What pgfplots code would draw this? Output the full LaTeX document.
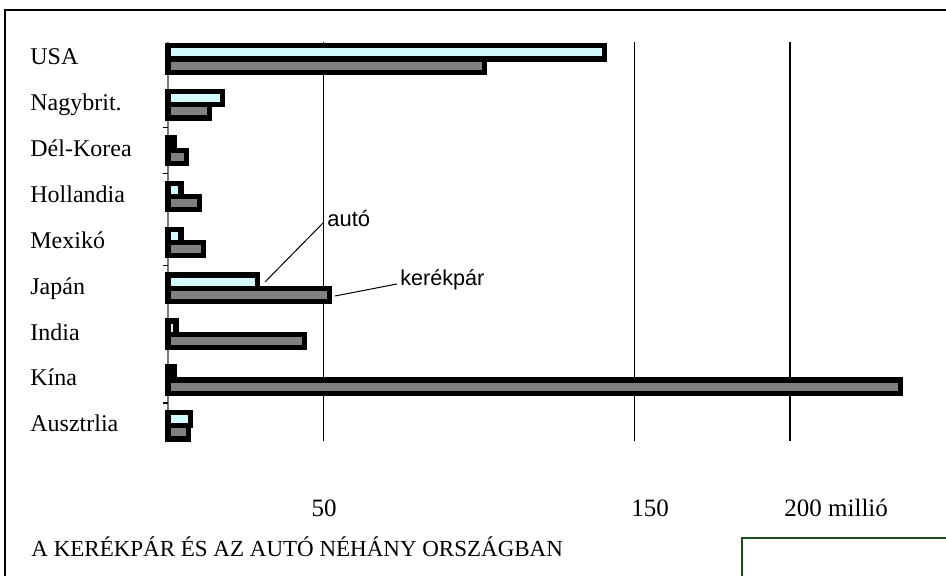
\documentclass[border=0pt]{standalone}
\usepackage{pgfplots}
\pgfplotsset{compat=1.18}
\usepackage{fontspec}
\setmainfont{Liberation Serif}
\newfontfamily\arialf{Liberation Sans}
\definecolor{autoc}{RGB}{210,250,250}
\definecolor{bikec}{RGB}{128,128,128}
\definecolor{frameg}{RGB}{30,80,30}
\definecolor{axisg}{RGB}{120,120,120}

\begin{document}
\begin{tikzpicture}
\useasboundingbox (0,0) rectangle (473pt,288pt);
\draw[line width=1.2pt] (2.5pt,0) -- (2.5pt,283pt) -- (473pt,283pt);
\draw[frameg, line width=1pt] (371pt,0) -- (371pt,19pt) -- (473pt,19pt);
\begin{axis}[
  at={(84pt,67.5pt)}, anchor=south west,
  scale only axis, width=373.2pt, height=199.5pt,
  xmin=0, xmax=240, ymin=-0.33, ymax=8.37,
  xbar, bar width=6.6pt,
  axis x line*=bottom, axis y line*=left,
  x axis line style={draw=none},
  y axis line style={draw=axisg, line width=0.8pt, -},
  xtick={50,150,200}, xticklabels={},
  xmajorgrids, major grid style={black, line width=0.75pt},
  major tick length=0pt,
  ytick={0,...,8},
  yticklabels={Ausztrlia,Kína,India,Japán,Mexikó,Hollandia,Dél-Korea,Nagybrit.,USA},
  yticklabel style={anchor=base west, xshift=-69pt, yshift=-3pt, inner sep=0pt, font=\fontsize{12}{14}\selectfont},
  extra y ticks={0.5,3.5,5.5,6.5}, extra y tick labels={},
  extra y tick style={major tick length=2.5pt, tick align=outside, tick style={black, line width=0.6pt}},
  clip=false,
]
\addplot[fill=autoc, draw=black, line width=2.6pt, bar shift=3.3pt] coordinates {(7.2,0) (1.9,1) (2.6,2) (28.8,3) (4.2,4) (4.2,5) (1.9,6) (17.5,7) (140.4,8)};
\addplot[fill=bikec, draw=black, line width=2.6pt, bar shift=-3.3pt] coordinates {(6.6,0) (235.5,1) (43.9,2) (51.9,3) (11.4,4) (10.1,5) (6,6) (13.3,7) (101.8,8)};
\end{axis}
% annotations
\node[anchor=base west, inner sep=0pt, font=\arialf\fontsize{11}{12}\selectfont] at (163.5pt,174.5pt) {autó};
\node[anchor=base west, inner sep=0pt, font=\arialf\fontsize{10.8}{12}\selectfont] at (200pt,145pt) {kerékpár};
\draw[line width=0.5pt] (132.5pt,147pt) -- (161.5pt,176.5pt);
\draw[line width=0.5pt] (167.5pt,140pt) -- (198.5pt,146pt);
% x tick labels
\node[anchor=base, inner sep=0pt, font=\fontsize{12.5}{14}\selectfont] at (162pt,29.5pt) {50};
\node[anchor=base west, inner sep=0pt, font=\fontsize{12.5}{14}\selectfont] at (315.5pt,29.5pt) {150};
\node[anchor=base west, inner sep=0pt, font=\fontsize{12.5}{14}\selectfont] at (392pt,29.5pt) {200 millió};
% title
\node[anchor=base west, inner sep=0pt, font=\fontsize{11.5}{13}\selectfont] at (15.5pt,9.5pt) {A KERÉKPÁR ÉS AZ AUTÓ NÉHÁNY ORSZÁGBAN};
\end{tikzpicture}
\end{document}
